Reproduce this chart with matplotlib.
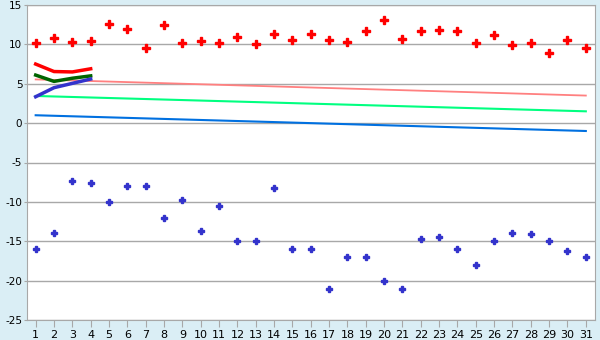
import numpy as np
import matplotlib
matplotlib.use("Agg")
import matplotlib.pyplot as plt

plt.rcParams['axes.unicode_minus'] = False

days = np.arange(1, 32)

red_pts = [10.2, 10.85, 10.3, 10.45, 12.6, 12.0, 9.6, 12.5, 10.2, 10.45,
           10.2, 10.95, 10.1, 11.35, 10.6, 11.35, 10.6, 10.3, 11.7, 13.1,
           10.7, 11.7, 11.85, 11.7, 10.2, 11.2, 9.95, 10.2, 8.95, 10.6, 9.6]
blue_pts = [-16, -14, -7.4, -7.6, -10, -8, -8, -12, -9.75, -13.75,
            -10.5, -15, -15, -8.25, -16, -16, -21, -17, -17, -20,
            -21, -14.75, -14.5, -16, -18, -15, -14, -14.1, -15, -16.25, -17]

# short curves over the first four days
short_x = [1, 2, 3, 4]
red_short = [7.5, 6.55, 6.5, 6.9]
green_short = [6.1, 5.3, 5.7, 6.0]
blue_short = [3.35, 4.5, 5.05, 5.6]

# trend lines (value at day 1, value at day 31)
trend_x = [1, 31]
pink_trend = [5.55, 3.5]
green_trend = [3.45, 1.5]
blue_trend = [1.0, -1.0]

fig = plt.figure(figsize=(6, 3.4), dpi=100)
fig.patch.set_facecolor('#daeef5')
ax = fig.add_axes([26.5/600, 1-320/340, (595-26.5)/600, 315/340])
ax.set_facecolor('white')

ax.plot(trend_x, pink_trend, color='#ff8080', lw=1.3)
ax.plot(trend_x, green_trend, color='#00ff80', lw=1.5)
ax.plot(trend_x, blue_trend, color='#0070e0', lw=1.5)

ax.plot(short_x, red_short, color='#ff0000', lw=2.5)
ax.plot(short_x, green_short, color='#006400', lw=2.5)
ax.plot(short_x, blue_short, color='#3333cc', lw=2.5)

ax.plot(days, red_pts, ls='none', marker='P', ms=5.5, color='#ff0000', mec='#ff0000')
ax.plot(days, blue_pts, ls='none', marker='P', ms=4.5, color='#3333cc', mec='#3333cc')

ax.set_xlim(0.5, 31.5)
ax.set_ylim(-25, 15)
ax.set_xticks(days)
ax.set_xticklabels([str(d) for d in days])
ax.set_yticks(range(-25, 16, 5))
ax.yaxis.grid(True, color='#a8a8a8', lw=1)
ax.set_axisbelow(True)
for s in ax.spines.values():
    s.set_color('#a8a8a8')
ax.tick_params(axis='x', length=5, color='#a8a8a8', labelsize=8, pad=2)
ax.tick_params(axis='y', length=2, color='#a8a8a8', labelsize=7.5, pad=1)

fig.savefig('out.png', dpi=100, facecolor=fig.get_facecolor())
